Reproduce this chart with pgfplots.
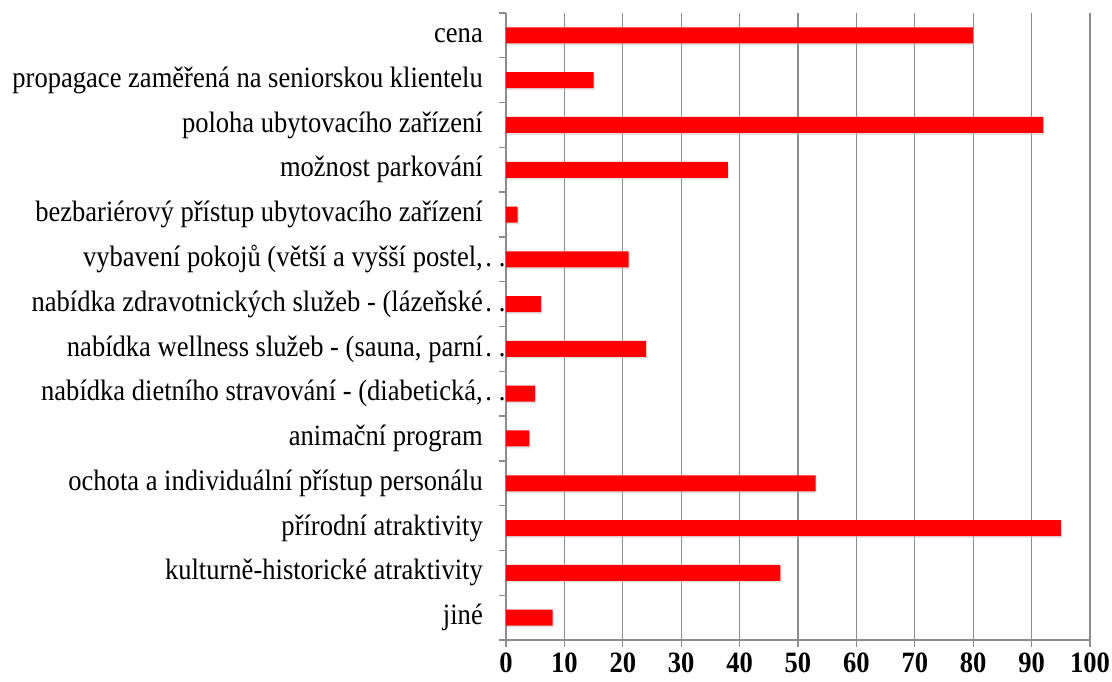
\documentclass[border=0pt]{standalone}
\usepackage{fontspec}
\setmainfont{Liberation Serif}[FakeStretch=0.9]
\usepackage{pgfplots}
\pgfplotsset{compat=1.18}
\usetikzlibrary{shadows}
\definecolor{gridgray}{HTML}{8C8C8C}
\newcommand\trunc{\rlap{\hspace{2.5pt}.\hspace{7pt}.}}
\begin{document}
\begin{tikzpicture}
\useasboundingbox (-506pt,-41pt) rectangle (606pt,640pt);
\begin{axis}[
  at={(0,0)}, anchor=south west,
  scale only axis,
  width=584pt, height=627pt,
  xmin=0, xmax=100,
  ymin=-0.5, ymax=13.5,
  y dir=reverse,
  axis x line*=bottom,
  axis y line*=left,
  axis line style={gridgray, line width=1.3pt, -},
  xtick={0,10,...,100},
  xmajorgrids,
  major grid style={gridgray, line width=1.3pt},
  ytick={-0.5,0.5,...,13.5},
  yticklabels={},
  major tick length=7pt,
  tick align=outside,
  tick style={gridgray, line width=1.3pt},
  /pgf/number format/assume math mode=true,
  xticklabel style={font=\fontsize{29.5}{30}\selectfont\bfseries, inner sep=0pt, yshift=-6pt},
  extra y ticks={0,...,13},
  extra y tick style={major tick length=0pt,
    yticklabel style={font=\fontsize{29.5}{30}\selectfont, anchor=east, inner sep=0pt, xshift=-23pt}},
  extra y tick labels={
    {cena},
    {propagace zaměřená na seniorskou klientelu},
    {poloha ubytovacího zařízení},
    {možnost parkování},
    {bezbariérový přístup ubytovacího zařízení},
    {vybavení pokojů (větší a vyšší postel,\trunc},
    {nabídka zdravotnických služeb - (lázeňské\trunc},
    {nabídka wellness služeb - (sauna, parní\trunc},
    {nabídka dietního stravování - (diabetická,\trunc},
    {animační program},
    {ochota a individuální přístup personálu},
    {přírodní atraktivity},
    {kulturně-historické atraktivity},
    {jiné}
  },
  clip=false,
]
\addplot[xbar, bar width=16pt, fill=red, draw=none,
  drop shadow={shadow xshift=1.2pt, shadow yshift=-1.8pt, fill=black!25, opacity=0.45}]
coordinates {
  (80,0) (15,1) (92,2) (38,3) (2,4) (21,5) (6,6)
  (24,7) (5,8) (4,9) (53,10) (95,11) (47,12) (8,13)
};
\end{axis}
\end{tikzpicture}
\end{document}
